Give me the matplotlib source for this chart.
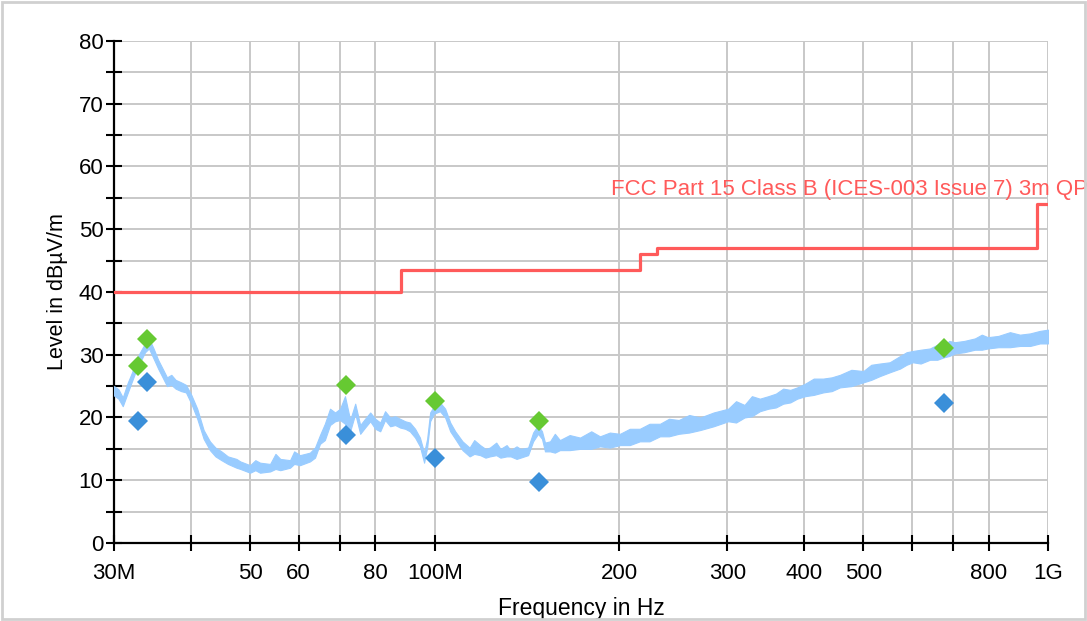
import matplotlib
matplotlib.use('Agg')
import matplotlib.pyplot as plt
from matplotlib.patches import Rectangle
from matplotlib.ticker import FixedLocator, NullLocator

plt.rcParams['font.family'] = ['Liberation Sans', 'DejaVu Sans']

# limit line (MHz, dBuV/m), drawn as steps
limit_mhz = [30, 88, 88, 216, 216, 230, 230, 960, 960, 1000]
limit_db = [40, 40, 43.5, 43.5, 46, 46, 47, 47, 54, 54]
limit_name = 'FCC Part 15 Class B (ICES-003 Issue 7) 3m QP'

trace_mhz = [30.0, 30.5, 31.0, 31.6, 32.1, 32.5, 33.0, 33.7, 34.2, 34.8,
             35.4, 36.0, 36.6, 37.2, 37.8, 38.6, 39.3, 40.1, 41.0, 42.0,
             43.0, 43.9, 44.9, 46.0, 47.5, 48.2, 50.0, 51.0, 51.9, 53.9,
             55.0, 56.0, 58.1, 59.0, 60.3, 62.6, 63.8, 65.0, 66.2, 67.5,
             68.8, 70.1, 71.4, 72.8, 74.2, 75.6, 77.0, 78.5, 80.0, 81.5,
             83.0, 84.6, 86.2, 87.8, 89.5, 91.1, 92.9, 94.6, 96.1, 97.2,
             98.3, 99.7, 102, 104, 106, 108, 111, 114, 116, 118.6,
             121, 123, 126, 128, 131, 133, 136, 138, 142, 144.7,
             147.4, 149.6, 151.3, 154.2, 157, 160, 166, 172.6, 180, 186,
             193, 200.5, 208, 216, 224, 233, 241, 250, 260, 271,
             285, 301, 310, 320, 329, 339, 350, 360, 370, 380,
             390, 402, 415, 430, 444, 458, 478, 500, 515, 532,
             552, 574, 588, 602, 620, 642, 660, 677, 690, 705,
             730, 760, 780, 798, 830, 867, 900, 935, 970, 1000]
trace_lo = [23.5, 23.0, 21.8, 24.0, 25.8, 27.2, 28.6, 30.4, 31.0, 29.4,
            27.8, 26.4, 25.0, 25.2, 24.6, 24.2, 24.0, 22.2, 19.8, 16.6,
            14.8, 13.8, 13.2, 12.6, 12.0, 11.8, 11.2, 11.6, 11.2, 11.4,
            11.8, 11.6, 12.0, 12.6, 12.4, 13.0, 13.6, 15.8, 16.4, 18.8,
            19.4, 19.6, 19.0, 17.8, 20.6, 17.4, 18.4, 19.4, 18.2, 17.8,
            19.6, 18.6, 18.8, 18.4, 18.2, 17.8, 16.8, 15.4, 12.8, 15.2,
            19.4, 20.6, 21.0, 20.0, 17.8, 16.6, 14.8, 13.8, 14.2, 14.0,
            13.6, 13.8, 14.0, 13.6, 13.8, 13.8, 13.4, 13.6, 14.0, 16.2,
            17.4, 16.6, 14.6, 14.6, 14.4, 14.8, 14.8, 15.0, 15.0, 15.4,
            15.2, 15.6, 15.6, 16.2, 16.2, 17.0, 17.0, 17.4, 17.6, 18.0,
            18.6, 19.4, 19.2, 20.0, 20.2, 21.0, 21.4, 21.6, 22.2, 22.4,
            23.0, 23.4, 23.6, 24.0, 24.2, 24.8, 25.0, 25.6, 26.0, 26.6,
            27.2, 27.8, 28.4, 28.8, 28.6, 29.2, 29.2, 29.6, 29.8, 30.2,
            30.4, 30.8, 30.8, 31.0, 31.2, 31.2, 31.4, 31.4, 31.8, 31.8]
trace_hi = [25.0, 24.5, 23.2, 25.6, 27.2, 28.8, 30.2, 31.8, 32.6, 31.0,
            29.2, 27.8, 26.4, 26.8, 26.0, 25.6, 25.2, 23.6, 21.4, 18.0,
            16.2, 15.2, 14.6, 13.8, 13.4, 13.0, 12.4, 13.2, 12.8, 12.6,
            14.2, 13.4, 13.2, 14.6, 14.0, 14.4, 15.2, 17.2, 19.0, 21.4,
            20.8, 21.4, 23.4, 19.6, 22.2, 18.8, 19.8, 20.8, 19.8, 19.2,
            21.0, 20.0, 20.2, 19.8, 19.4, 19.2, 18.2, 16.8, 14.4, 16.6,
            20.8, 21.8, 22.4, 21.4, 19.2, 17.8, 16.2, 15.2, 16.4, 15.6,
            15.0, 15.2, 16.0, 15.0, 15.6, 14.8, 15.4, 15.0, 15.2, 17.6,
            18.8, 17.8, 16.0, 16.2, 17.4, 16.4, 17.2, 16.8, 17.8, 17.0,
            17.6, 17.4, 18.2, 18.2, 19.0, 19.0, 19.8, 19.6, 20.4, 20.0,
            20.8, 21.4, 22.6, 22.0, 23.4, 23.0, 23.4, 23.8, 24.6, 24.4,
            24.8, 25.4, 26.2, 26.2, 26.4, 26.8, 27.6, 27.4, 28.4, 28.6,
            28.8, 29.8, 30.4, 30.6, 30.8, 31.0, 31.6, 31.4, 32.2, 32.0,
            32.2, 32.6, 33.2, 32.8, 33.0, 33.6, 33.2, 33.4, 33.8, 34.0]

# final measurements
peak_mhz = [32.8, 34.0, 71.8, 100.0, 148.0, 676.0]
peak_db = [28.2, 32.5, 25.2, 22.6, 19.4, 31.1]
qp_mhz = [32.8, 34.0, 71.8, 100.0, 148.0, 676.0]
qp_db = [19.4, 25.7, 17.2, 13.5, 9.7, 22.3]

xtick_vals = [30, 40, 50, 60, 70, 80, 100, 200, 300, 400, 500, 600, 700, 800, 1000]
xtick_labels = ['30M', '', '50', '60', '', '80', '100M', '200', '300', '400', '500', '', '', '800', '1G']
ytick_vals = list(range(0, 81, 5))
ytick_labels = [str(v) if v % 10 == 0 else '' for v in ytick_vals]

fig = plt.figure(figsize=(10.87, 6.21), dpi=100)
ax = fig.add_axes([0.1049, 0.1256, 0.8592, 0.8084])

ax.fill_between(trace_mhz, trace_lo, trace_hi, color='#99ccff', lw=0.8, ec='#99ccff', zorder=3)
ax.plot(limit_mhz, limit_db, color='#ff5a5a', lw=2.3, zorder=4)
ax.text(194, 55.4, limit_name, color='#ff5a5a', fontsize=16, ha='left', va='baseline',
        clip_on=False, zorder=5)
ax.plot(peak_mhz, peak_db, 'D', color='#66c932', ms=10, mew=0, zorder=6)
ax.plot(qp_mhz, qp_db, 'D', color='#3a8fd9', ms=10, mew=0, zorder=6)

ax.set_xscale('log')
ax.set_xlim(30, 1000)
ax.set_ylim(0, 80)
ax.xaxis.set_major_locator(FixedLocator(xtick_vals))
ax.xaxis.set_minor_locator(NullLocator())
ax.set_xticklabels(xtick_labels)
ax.set_yticks(ytick_vals)
ax.set_yticklabels(ytick_labels)

ax.grid(True, color='#c8c8c8', lw=1.4, zorder=0)
ax.set_axisbelow(True)
for s in ['top', 'right']:
    ax.spines[s].set_visible(False)
for s in ['left', 'bottom']:
    ax.spines[s].set_linewidth(1.6)
    ax.spines[s].set_color('black')
ax.tick_params(direction='inout', length=11, width=1.5, labelsize=16, colors='black')
ax.tick_params(axis='x', pad=9)
ax.tick_params(axis='y', pad=2)

ax.set_xlabel('Frequency in Hz', fontsize=16.5, labelpad=9)
ax.set_ylabel('Level in dBµV/m', fontsize=15.5, labelpad=8)

fig.patches.append(Rectangle((0.002, 0.003), 0.996, 0.994, transform=fig.transFigure,
                             fill=False, ec='#d0d0d0', lw=2))

fig.savefig('out.png', dpi=100, facecolor='white')
